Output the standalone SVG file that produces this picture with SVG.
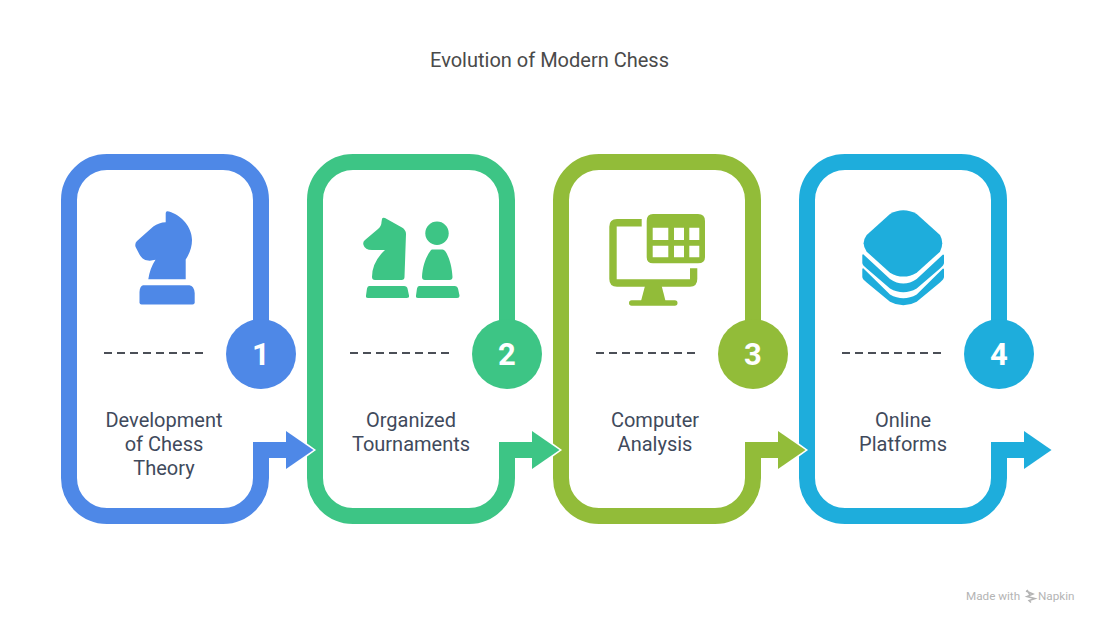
<svg xmlns="http://www.w3.org/2000/svg" width="1099" height="624" viewBox="0 0 1099 624">
<style>
text{font-family:Roboto,"Liberation Sans",sans-serif}
.frame{fill:none;stroke-width:16;stroke-miterlimit:10}
.div{fill:none;stroke:#4b4f57;stroke-width:2;stroke-dasharray:8 5}
.lbl{font-size:20px;fill:#3f4a5c;text-anchor:middle}
.num{font-size:31px;font-weight:700;fill:#fff;text-anchor:middle}
.halo{fill:none;stroke:#fff;stroke-width:3;stroke-miterlimit:10}
.b{fill:#4e88e7}.bs{stroke:#4e88e7}
.g{fill:#3dc585}.gs{stroke:#3dc585}
.o{fill:#92bc39}.os{stroke:#92bc39}
.c{fill:#1eaddc}.cs{stroke:#1eaddc}
</style>
<defs>
<path id="fr" d="M200 330V200A38 38 0 0 0 162 162H46A38 38 0 0 0 8 200V478A38 38 0 0 0 46 516H162A38 38 0 0 0 200 478V450H228"/>
<polygon id="hd" points="225,431 252.500,450 225,469"/>
<polyline id="hl" points="240,440.900 252.500,450 240,459.100"/>
</defs>
<rect width="1099" height="624" fill="#fff"/>
<text x="549.500" y="67" fill="#4a4a4a" text-anchor="middle" style="font-size:20px">Evolution of Modern Chess</text>

<g id="node-1">
<use href="#fr" x="61" class="frame bs"/>
<path class="b" d="M166.500 211.500Q167 211 169 211.600C181 215 192 227 192 240Q192 250 185.700 259.500V279.300H148.300Q150 268 155.500 259.800C149 261.500 143 261 139.500 254.500L135.600 247Q134.500 243.500 137 241L153.300 226.500Q159 222.500 165.700 222.300V213.500Q165.800 212 166.500 211.500Z"/>
<path class="b" d="M143 285.300H189.500Q194 286 194.700 293V302.500Q194.700 304.500 192.500 304.500H141.500Q139.500 304.500 139.500 302.500V292Q139.700 286.500 143 285.300Z"/>
<circle class="b" cx="261" cy="354" r="35"/>
<text class="num" x="261" y="365">1</text>
<path class="div" d="M104 353H203"/>
<text class="lbl" x="164" y="427">Development</text>
<text class="lbl" x="164" y="451">of Chess</text>
<text class="lbl" x="164" y="475">Theory</text>
</g>

<g id="node-2">
<use href="#fr" x="307" class="frame gs"/>
<path class="g" d="M382 219Q382.500 217 385 218L402 227.500Q406 230 406 234L404.500 277Q404.500 280 401.500 280H375Q372 280 372 277Q372 262 385 250H372Q365 250 363.500 245Q362.500 242 365 240L378 229Q381.500 226 381.500 222Z"/>
<path class="g" d="M369 286H404Q407 286 407.500 288.500L409 295.500Q409.500 298 406.500 298H368Q365.500 298 366 295.500L367 288.500Q367.500 286 369 286Z"/>
<circle class="g" cx="437" cy="233.300" r="11.700"/>
<path class="g" d="M432 249.500H442.500Q444 249.500 445.500 251.500C449 257 452 266 452.500 277Q452.500 280 449.500 280H425Q422 280 422 277C422.500 266 426 257 430 251.500Q431 249.500 432 249.500Z"/>
<path class="g" d="M419 286H455Q457.500 286 458 288.500L459.500 295.500Q459.500 298 457 298H418Q415.500 298 416 295.500L417 288.500Q417.500 286 419 286Z"/>
<circle class="g" cx="507" cy="354" r="35"/>
<text class="num" x="507" y="365">2</text>
<path class="div" d="M350 353H449"/>
<text class="lbl" x="411" y="427">Organized</text>
<text class="lbl" x="411" y="451">Tournaments</text>
</g>

<g id="node-3">
<use href="#fr" x="553" class="frame os"/>
<path class="o" d="M641.700 219H617Q609.300 219 609.300 226.700V279Q609.300 286.700 617 286.700H690Q697.300 286.700 697.300 279V268.300H690V279.300H616.700V226.500H641.700Z"/>
<path class="o" d="M645 286H661.700L665.500 301H641Z"/>
<rect class="o" x="629" y="300.300" width="48.500" height="5.500" rx="2.700"/>
<path class="o" fill-rule="evenodd" d="M653 214H698Q705 214 705 221V257.300Q705 263.300 698 263.300H653Q646.700 263.300 646.700 257.300V221Q646.700 214 653 214ZM652.700 227.700V240H668.300V227.700ZM674 227.700V240H684V227.700ZM689.300 227.700V240H699.300V227.700ZM652.700 245.700V257.300H668.300V245.700ZM674 245.700V257.300H684V245.700ZM689.300 245.700V257.300H699.300V245.700Z"/>
<circle class="o" cx="753" cy="354" r="35"/>
<text class="num" x="753" y="365">3</text>
<path class="div" d="M596 353H695"/>
<text class="lbl" x="655" y="427">Computer</text>
<text class="lbl" x="655" y="451">Analysis</text>
</g>

<g id="node-4">
<use href="#fr" x="799" class="frame cs"/>
<path class="c" d="M890 214Q903.300 206.500 916.700 214L940 235Q944.500 243.300 940 251.700L916.700 272.700Q903.300 280.500 890 272.700L866.700 251.700Q860.500 243.300 866.700 235Z"/>
<path class="c" d="M862.300 255C862.500 254.500 863 254 863.500 254.500L890 279Q903.300 288 916.700 279L943 254.500L944 255V263Q944 265 940 268.500L916.700 288.500Q903.300 296 890 288.500L866.700 268.500Q862.300 265 862.300 263Z"/>
<path class="c" d="M862.300 269C862.500 268.500 863 268 863.500 268.500L890 294.500Q903.300 302 916.700 294.500L943 268.500L944 269V277Q944 279 940 282.500L916.700 301.700Q903.300 309 890 301.700L866.700 282.500Q862.300 279 862.300 277Z"/>
<circle class="c" cx="999" cy="354" r="35"/>
<text class="num" x="999" y="365">4</text>
<path class="div" d="M842 353H941"/>
<text class="lbl" x="903" y="427">Online</text>
<text class="lbl" x="903" y="451">Platforms</text>
</g>

<g id="connectors">
<use href="#hl" x="61" class="halo"/><use href="#hd" x="61" class="b"/>
<use href="#hl" x="307" class="halo"/><use href="#hd" x="307" class="g"/>
<use href="#hl" x="553" class="halo"/><use href="#hd" x="553" class="o"/>
<use href="#hl" x="799" class="halo"/><use href="#hd" x="799" class="c"/>
</g>

<g id="footer">
<text x="966" y="600" fill="#b4b4b4" style="font-size:11.700px">Made with</text>
<path d="M1026 591L1033 594L1027 596.500L1035 598.500L1029 600.500L1031 602.500M1027 590L1030 595" fill="none" stroke="#b4b4b4" stroke-width="1.500"/>
<text x="1038" y="600" fill="#b4b4b4" style="font-size:11.700px">Napkin</text>
</g>
</svg>
